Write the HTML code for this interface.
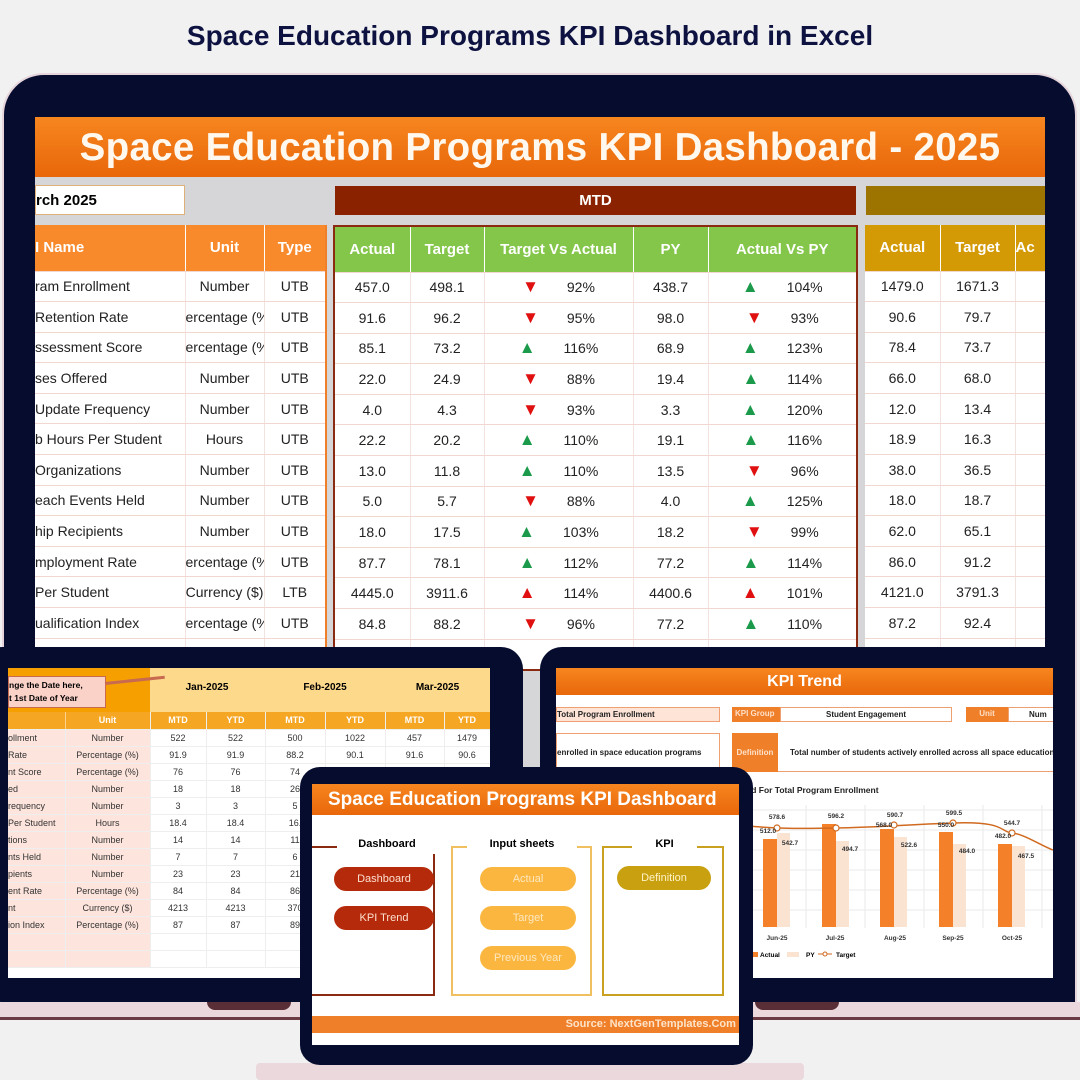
<!DOCTYPE html>
<html><head><meta charset="utf-8">
<style>
*{margin:0;padding:0;box-sizing:border-box}
body{width:1080px;height:1080px;overflow:hidden;background:#f1f1f2;font-family:"Liberation Sans",sans-serif;position:relative}
.a{position:absolute}
table{border-collapse:collapse;table-layout:fixed}
td{overflow:hidden;white-space:nowrap;text-align:center}
.big td{height:30.6px;font-size:14px;color:#222;border-bottom:1px solid #f0d8d0;border-right:1px solid #f3e3de}
.big tr.h td{height:46px;color:#fff;font-weight:bold;font-size:15px;border-right:1px solid rgba(255,255,255,.5)}
.up{color:#1a9a4a;font-size:17px}
.dn{color:#e01010;font-size:17px}
.ru{color:#e01010;font-size:17px}
.sm td{font-size:9px;color:#333;height:17px;border-bottom:1px solid #eee;border-right:1px solid #eee}
</style></head><body>
<div class="a" style="left:0;top:20px;width:1060px;text-align:center;font-size:28px;font-weight:bold;color:#0d1240">Space Education Programs KPI Dashboard in Excel</div>

<!-- big laptop -->
<div class="a" style="left:2px;top:73px;width:1075px;height:940px;background:#050c2e;border-radius:42px 42px 0 0;border:2px solid #e6d6dc"></div>
<div class="a" style="left:35px;top:117px;width:1010px;height:900px;background:#d6d6d8;overflow:hidden">
 <div class="a" style="left:0;top:0;width:1010px;height:60px;background:linear-gradient(#f7861f,#e8670a);color:#fff8ee;font-weight:bold;font-size:38.5px;text-align:center;line-height:62px;letter-spacing:.3px;white-space:nowrap">Space Education Programs KPI Dashboard - 2025</div>
 <div class="a" style="left:0;top:68px;width:150px;height:30px;background:#fff;border:1px solid #e0b07a;font-weight:bold;font-size:15px;line-height:29px;padding-left:0">rch 2025</div>
 <div class="a" style="left:300px;top:69px;width:521px;height:29px;background:#8a2200;color:#fff;font-weight:bold;font-size:15px;text-align:center;line-height:29px">MTD</div>
 <div class="a" style="left:831px;top:69px;width:179px;height:29px;background:#9e7400"></div>
 <table class="big a" style="left:0;top:108px;width:291px;background:#fff;border-right:2px solid #f07f2a">
  <col style="width:150px"><col style="width:79px"><col style="width:62px">
  <tr class="h" style="background:#f88a2c"><td style="text-align:left">I Name</td><td>Unit</td><td>Type</td></tr>
  <tr><td style="text-align:left">ram Enrollment</td><td>Number</td><td>UTB</td></tr>
  <tr><td style="text-align:left">Retention Rate</td><td style="text-align:right">ercentage (%</td><td>UTB</td></tr>
  <tr><td style="text-align:left">ssessment Score</td><td style="text-align:right">ercentage (%</td><td>UTB</td></tr>
  <tr><td style="text-align:left">ses Offered</td><td>Number</td><td>UTB</td></tr>
  <tr><td style="text-align:left">Update Frequency</td><td>Number</td><td>UTB</td></tr>
  <tr><td style="text-align:left">b Hours Per Student</td><td>Hours</td><td>UTB</td></tr>
  <tr><td style="text-align:left">Organizations</td><td>Number</td><td>UTB</td></tr>
  <tr><td style="text-align:left">each Events Held</td><td>Number</td><td>UTB</td></tr>
  <tr><td style="text-align:left">hip Recipients</td><td>Number</td><td>UTB</td></tr>
  <tr><td style="text-align:left">mployment Rate</td><td style="text-align:right">ercentage (%</td><td>UTB</td></tr>
  <tr><td style="text-align:left">Per Student</td><td>Currency ($)</td><td>LTB</td></tr>
  <tr><td style="text-align:left">ualification Index</td><td style="text-align:right">ercentage (%</td><td>UTB</td></tr>
  <tr><td></td><td></td><td></td></tr>
 </table>
 <table class="big a" style="left:298px;top:108px;width:523px;background:#fff;border:2px solid #8a2a10">
  <col style="width:76px"><col style="width:74px"><col style="width:149px"><col style="width:75px"><col style="width:149px">
  <tr class="h" style="background:#84c64a"><td>Actual</td><td>Target</td><td>Target Vs Actual</td><td>PY</td><td>Actual Vs PY</td></tr>
  <tr><td>457.0</td><td>498.1</td><td><span class="dn">▼</span>&emsp;&emsp;92%</td><td>438.7</td><td><span class="up">▲</span>&emsp;&emsp;104%</td></tr>
  <tr><td>91.6</td><td>96.2</td><td><span class="dn">▼</span>&emsp;&emsp;95%</td><td>98.0</td><td><span class="dn">▼</span>&emsp;&emsp;93%</td></tr>
  <tr><td>85.1</td><td>73.2</td><td><span class="up">▲</span>&emsp;&emsp;116%</td><td>68.9</td><td><span class="up">▲</span>&emsp;&emsp;123%</td></tr>
  <tr><td>22.0</td><td>24.9</td><td><span class="dn">▼</span>&emsp;&emsp;88%</td><td>19.4</td><td><span class="up">▲</span>&emsp;&emsp;114%</td></tr>
  <tr><td>4.0</td><td>4.3</td><td><span class="dn">▼</span>&emsp;&emsp;93%</td><td>3.3</td><td><span class="up">▲</span>&emsp;&emsp;120%</td></tr>
  <tr><td>22.2</td><td>20.2</td><td><span class="up">▲</span>&emsp;&emsp;110%</td><td>19.1</td><td><span class="up">▲</span>&emsp;&emsp;116%</td></tr>
  <tr><td>13.0</td><td>11.8</td><td><span class="up">▲</span>&emsp;&emsp;110%</td><td>13.5</td><td><span class="dn">▼</span>&emsp;&emsp;96%</td></tr>
  <tr><td>5.0</td><td>5.7</td><td><span class="dn">▼</span>&emsp;&emsp;88%</td><td>4.0</td><td><span class="up">▲</span>&emsp;&emsp;125%</td></tr>
  <tr><td>18.0</td><td>17.5</td><td><span class="up">▲</span>&emsp;&emsp;103%</td><td>18.2</td><td><span class="dn">▼</span>&emsp;&emsp;99%</td></tr>
  <tr><td>87.7</td><td>78.1</td><td><span class="up">▲</span>&emsp;&emsp;112%</td><td>77.2</td><td><span class="up">▲</span>&emsp;&emsp;114%</td></tr>
  <tr><td>4445.0</td><td>3911.6</td><td><span class="ru">▲</span>&emsp;&emsp;114%</td><td>4400.6</td><td><span class="ru">▲</span>&emsp;&emsp;101%</td></tr>
  <tr><td>84.8</td><td>88.2</td><td><span class="dn">▼</span>&emsp;&emsp;96%</td><td>77.2</td><td><span class="up">▲</span>&emsp;&emsp;110%</td></tr>
  <tr><td></td><td></td><td></td><td></td><td></td></tr>
 </table>
 <table class="big a" style="left:830px;top:108px;width:180px;background:#fff">
  <col style="width:75px"><col style="width:75px"><col style="width:30px">
  <tr class="h" style="background:#d39a06"><td>Actual</td><td>Target</td><td style="text-align:left">Ac</td></tr>
  <tr><td>1479.0</td><td>1671.3</td><td></td></tr>
  <tr><td>90.6</td><td>79.7</td><td></td></tr>
  <tr><td>78.4</td><td>73.7</td><td></td></tr>
  <tr><td>66.0</td><td>68.0</td><td></td></tr>
  <tr><td>12.0</td><td>13.4</td><td></td></tr>
  <tr><td>18.9</td><td>16.3</td><td></td></tr>
  <tr><td>38.0</td><td>36.5</td><td></td></tr>
  <tr><td>18.0</td><td>18.7</td><td></td></tr>
  <tr><td>62.0</td><td>65.1</td><td></td></tr>
  <tr><td>86.0</td><td>91.2</td><td></td></tr>
  <tr><td>4121.0</td><td>3791.3</td><td></td></tr>
  <tr><td>87.2</td><td>92.4</td><td></td></tr>
  <tr><td></td><td></td><td></td></tr>
 </table>
</div>

<!-- left laptop -->
<div class="a" style="left:0;top:1002px;width:540px;height:16px;background:#ead8dc"></div>
<div class="a" style="left:0;top:1017px;width:540px;height:3px;background:#6b3a42"></div>
<div class="a" style="left:207px;top:1000px;width:84px;height:10px;background:#5a2e36;border-radius:0 0 8px 8px"></div>
<div class="a" style="left:-20px;top:647px;width:543px;height:355px;background:#050c2e;border-radius:22px"></div>
<div class="a" style="left:8px;top:668px;width:482px;height:310px;background:#fff;overflow:hidden">
 <div class="a" style="left:0;top:0;width:142px;height:44px;background:#f5a000"></div>
 <div class="a" style="left:142px;top:0;width:340px;height:44px;background:#fdd98c"></div>
 <div class="a" style="left:0;top:8px;width:98px;height:32px;background:#fbd2c8;border:1px solid #c86a50;font-size:8.5px;font-weight:bold;line-height:13px;padding:2px 0 0 0">nge the Date here,<br>t 1st Date of Year</div>
 <div class="a" style="left:97px;top:14px;width:60px;height:3px;background:#c86a50;transform:rotate(-6deg);transform-origin:left"></div>
 <div class="a" style="left:142px;top:14px;width:114px;text-align:center;font-size:10px;font-weight:bold">Jan-2025</div>
 <div class="a" style="left:257px;top:14px;width:120px;text-align:center;font-size:10px;font-weight:bold">Feb-2025</div>
 <div class="a" style="left:377px;top:14px;width:105px;text-align:center;font-size:10px;font-weight:bold">Mar-2025</div>
 <table class="sm a" style="left:0;top:44px;width:482px">
  <col style="width:57px"><col style="width:85px"><col style="width:56px"><col style="width:59px"><col style="width:60px"><col style="width:60px"><col style="width:59px"><col style="width:46px">
  <tr style="background:#f5a623;color:#fff"><td style="color:#fff;font-weight:bold;border-right:1px solid #fbd08a"></td><td style="color:#fff;font-weight:bold">Unit</td><td style="color:#fff;font-weight:bold">MTD</td><td style="color:#fff;font-weight:bold">YTD</td><td style="color:#fff;font-weight:bold">MTD</td><td style="color:#fff;font-weight:bold">YTD</td><td style="color:#fff;font-weight:bold">MTD</td><td style="color:#fff;font-weight:bold">YTD</td></tr>
  <tr><td style="text-align:left;background:#fde4dc">ollment</td><td style="background:#fde4dc">Number</td><td>522</td><td>522</td><td>500</td><td>1022</td><td>457</td><td>1479</td></tr>
  <tr><td style="text-align:left;background:#fde4dc"> Rate</td><td style="background:#fde4dc">Percentage (%)</td><td>91.9</td><td>91.9</td><td>88.2</td><td>90.1</td><td>91.6</td><td>90.6</td></tr>
  <tr><td style="text-align:left;background:#fde4dc">nt Score</td><td style="background:#fde4dc">Percentage (%)</td><td>76</td><td>76</td><td>74</td><td></td><td></td><td></td></tr>
  <tr><td style="text-align:left;background:#fde4dc">ed</td><td style="background:#fde4dc">Number</td><td>18</td><td>18</td><td>26</td><td></td><td></td><td></td></tr>
  <tr><td style="text-align:left;background:#fde4dc">requency</td><td style="background:#fde4dc">Number</td><td>3</td><td>3</td><td>5</td><td></td><td></td><td></td></tr>
  <tr><td style="text-align:left;background:#fde4dc">Per Student</td><td style="background:#fde4dc">Hours</td><td>18.4</td><td>18.4</td><td>16.</td><td></td><td></td><td></td></tr>
  <tr><td style="text-align:left;background:#fde4dc">tions</td><td style="background:#fde4dc">Number</td><td>14</td><td>14</td><td>11</td><td></td><td></td><td></td></tr>
  <tr><td style="text-align:left;background:#fde4dc">nts Held</td><td style="background:#fde4dc">Number</td><td>7</td><td>7</td><td>6</td><td></td><td></td><td></td></tr>
  <tr><td style="text-align:left;background:#fde4dc">pients</td><td style="background:#fde4dc">Number</td><td>23</td><td>23</td><td>21</td><td></td><td></td><td></td></tr>
  <tr><td style="text-align:left;background:#fde4dc">ent Rate</td><td style="background:#fde4dc">Percentage (%)</td><td>84</td><td>84</td><td>86</td><td></td><td></td><td></td></tr>
  <tr><td style="text-align:left;background:#fde4dc">nt</td><td style="background:#fde4dc">Currency ($)</td><td>4213</td><td>4213</td><td>370</td><td></td><td></td><td></td></tr>
  <tr><td style="text-align:left;background:#fde4dc">ion Index</td><td style="background:#fde4dc">Percentage (%)</td><td>87</td><td>87</td><td>89</td><td></td><td></td><td></td></tr>
  <tr><td style="background:#fde4dc"></td><td style="background:#fde4dc"></td><td></td><td></td><td></td><td></td><td></td><td></td></tr>
  <tr><td style="background:#fde4dc"></td><td style="background:#fde4dc"></td><td></td><td></td><td></td><td></td><td></td><td></td></tr>
 </table>
</div>

<!-- right laptop -->
<div class="a" style="left:540px;top:1002px;width:540px;height:16px;background:#ead8dc"></div>
<div class="a" style="left:540px;top:1017px;width:540px;height:3px;background:#6b3a42"></div>
<div class="a" style="left:755px;top:1000px;width:84px;height:10px;background:#5a2e36;border-radius:0 0 8px 8px"></div>
<div class="a" style="left:540px;top:647px;width:532px;height:355px;background:#050c2e;border-radius:22px 22px 0 0"></div>
<div class="a" style="left:556px;top:668px;width:497px;height:310px;background:#fff;overflow:hidden;font-size:8px;font-weight:bold;color:#222">
 <div class="a" style="left:0;top:0;width:497px;height:27px;background:linear-gradient(#f7861f,#e8670a);color:#fff;text-align:center;font-size:16px;line-height:28px">KPI Trend</div>
 <div class="a" style="left:0;top:39px;width:164px;height:15px;background:#fde4d6;border:1px solid #f0a070;line-height:13px">Total Program Enrollment</div>
 <div class="a" style="left:176px;top:39px;width:48px;height:15px;background:#f07f2a;color:#fde0c8;line-height:14px;padding-left:3px">KPI Group</div>
 <div class="a" style="left:224px;top:39px;width:172px;height:15px;border:1px solid #f0a070;text-align:center;line-height:13px">Student Engagement</div>
 <div class="a" style="left:410px;top:39px;width:42px;height:15px;background:#f07f2a;color:#fde0c8;text-align:center;line-height:14px">Unit</div>
 <div class="a" style="left:452px;top:39px;width:60px;height:15px;border:1px solid #f0a070;line-height:13px;padding-left:20px">Num</div>
 <div class="a" style="left:0;top:65px;width:164px;height:39px;border:1px solid #f0a070;line-height:37px">enrolled in space education programs</div>
 <div class="a" style="left:176px;top:65px;width:46px;height:39px;background:#f07f2a;color:#fde0c8;line-height:39px;text-align:center">Definition</div>
 <div class="a" style="left:222px;top:65px;width:290px;height:39px;border-bottom:1px solid #f0a070;line-height:39px;padding-left:12px">Total number of students actively enrolled across all space education co</div>
 <div class="a" style="left:190px;top:117px;font-size:8.5px">nd For Total Program Enrollment</div>
 <svg class="a" style="left:0;top:0" width="497" height="310" viewBox="556 668 497 310">
  <g stroke="#eaeaea" stroke-width="1">
   <line x1="748" y1="810" x2="1053" y2="810"/><line x1="748" y1="830" x2="1053" y2="830"/><line x1="748" y1="850" x2="1053" y2="850"/><line x1="748" y1="870" x2="1053" y2="870"/><line x1="748" y1="890" x2="1053" y2="890"/><line x1="748" y1="910" x2="1053" y2="910"/>
   <line x1="806" y1="805" x2="806" y2="928"/><line x1="865" y1="805" x2="865" y2="928"/><line x1="924" y1="805" x2="924" y2="928"/><line x1="983" y1="805" x2="983" y2="928"/><line x1="1042" y1="805" x2="1042" y2="928"/>
  </g>
  <g fill="#f5802a"><rect x="763" y="839" width="14" height="88"/><rect x="822" y="824" width="14" height="103"/><rect x="880" y="829" width="14" height="98"/><rect x="939" y="832" width="14" height="95"/><rect x="998" y="844" width="14" height="83"/></g>
  <g fill="#fbe3d2"><rect x="777" y="833" width="13" height="94"/><rect x="836" y="841" width="13" height="86"/><rect x="894" y="837" width="13" height="90"/><rect x="953" y="844" width="13" height="83"/><rect x="1012" y="846" width="13" height="81"/></g>
  <path d="M748 826 C770 828,790 829,836 828 S900 825,953 823 S1000 832,1012 833 S1040 845,1053 850" fill="none" stroke="#d06a20" stroke-width="1.5"/>
  <g fill="#fff" stroke="#d06a20" stroke-width="1.2"><circle cx="777" cy="828" r="3"/><circle cx="836" cy="828" r="3"/><circle cx="894" cy="825" r="3"/><circle cx="953" cy="823" r="3"/><circle cx="1012" cy="833" r="3"/></g>
  <g font-family="Liberation Sans" font-size="6.5" fill="#333" text-anchor="middle">
   <text x="777" y="819">578.6</text><text x="768" y="833">512.0</text><text x="790" y="845">542.7</text>
   <text x="836" y="818">596.2</text><text x="850" y="851">494.7</text>
   <text x="895" y="817">590.7</text><text x="884" y="827">568.0</text><text x="909" y="847">522.6</text>
   <text x="954" y="815">599.5</text><text x="946" y="827">550.0</text><text x="967" y="853">484.0</text>
   <text x="1012" y="825">544.7</text><text x="1003" y="838">482.0</text><text x="1026" y="858">467.5</text>
   <text x="777" y="940" font-weight="bold">Jun-25</text><text x="835" y="940" font-weight="bold">Jul-25</text><text x="895" y="940" font-weight="bold">Aug-25</text><text x="953" y="940" font-weight="bold">Sep-25</text><text x="1012" y="940" font-weight="bold">Oct-25</text>
  </g>
  <rect x="748" y="952" width="10" height="5" fill="#f5802a"/><text x="760" y="957" font-family="Liberation Sans" font-size="6.5" font-weight="bold">Actual</text>
  <rect x="787" y="952" width="12" height="5" fill="#fbe3d2"/><text x="806" y="957" font-family="Liberation Sans" font-size="6.5" font-weight="bold">PY</text>
  <line x1="818" y1="954" x2="832" y2="954" stroke="#d06a20"/><circle cx="825" cy="954" r="2" fill="#fff" stroke="#d06a20"/><text x="836" y="957" font-family="Liberation Sans" font-size="6.5" font-weight="bold">Target</text>
 </svg>
</div>

<!-- tablet -->
<div class="a" style="left:256px;top:1063px;width:548px;height:17px;background:#ead8dc;border-radius:4px"></div>
<div class="a" style="left:300px;top:767px;width:453px;height:298px;background:#050c2e;border-radius:20px"></div>
<div class="a" style="left:312px;top:784px;width:427px;height:261px;background:#fff;overflow:hidden">
 <div class="a" style="left:0;top:0;width:427px;height:31px;background:linear-gradient(#f7861f,#e8670a);color:#fff;font-weight:bold;font-size:19px;line-height:32px;padding-left:16px;white-space:nowrap">Space Education Programs KPI Dashboard</div>
 <div class="a" style="left:0;top:62px;width:123px;height:150px;border:2px solid #8a2a10;border-left:none"></div>
 <div class="a" style="left:139px;top:62px;width:141px;height:150px;border:2px solid #f0c060"></div>
 <div class="a" style="left:290px;top:62px;width:122px;height:150px;border:2px solid #c9a020"></div>
 <div class="a" style="left:25px;top:54px;width:100px;height:16px;background:#fff;text-align:center;font-size:11px;font-weight:bold">Dashboard</div>
 <div class="a" style="left:155px;top:54px;width:110px;height:16px;background:#fff;text-align:center;font-size:11px;font-weight:bold">Input sheets</div>
 <div class="a" style="left:320px;top:54px;width:65px;height:16px;background:#fff;text-align:center;font-size:11px;font-weight:bold">KPI</div>
 <div class="a" style="left:22px;top:83px;width:100px;height:24px;border-radius:12px;background:#b52a0a;color:#fde0d0;font-size:11px;text-align:center;line-height:24px">Dashboard</div>
 <div class="a" style="left:22px;top:122px;width:100px;height:24px;border-radius:12px;background:#b52a0a;color:#fde0d0;font-size:11px;text-align:center;line-height:24px">KPI Trend</div>
 <div class="a" style="left:168px;top:83px;width:96px;height:24px;border-radius:12px;background:#fbb640;color:#fde8c0;font-size:11px;text-align:center;line-height:24px">Actual</div>
 <div class="a" style="left:168px;top:122px;width:96px;height:24px;border-radius:12px;background:#fbb640;color:#fde8c0;font-size:11px;text-align:center;line-height:24px">Target</div>
 <div class="a" style="left:168px;top:162px;width:96px;height:24px;border-radius:12px;background:#fbb640;color:#fde8c0;font-size:11px;text-align:center;line-height:24px">Previous Year</div>
 <div class="a" style="left:305px;top:82px;width:94px;height:24px;border-radius:12px;background:#c9a010;color:#fff3c8;font-size:11px;text-align:center;line-height:24px">Definition</div>
 <div class="a" style="left:0;top:232px;width:427px;height:17px;background:#f07f2a;color:#fde4c8;font-weight:bold;font-size:11px;line-height:17px;text-align:right;padding-right:0;white-space:nowrap">Source: NextGenTemplates.Com&nbsp;</div>
</div>
</body></html>
